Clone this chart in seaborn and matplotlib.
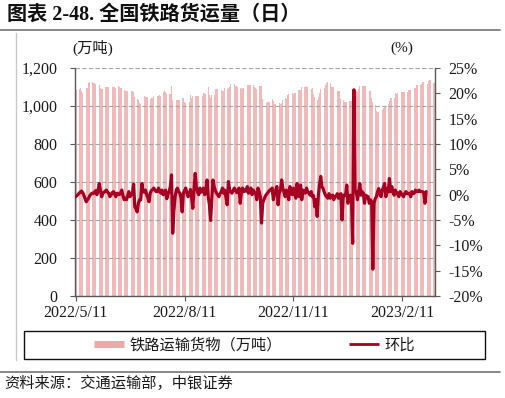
import pandas as pd
import matplotlib.pyplot as plt
import seaborn as sns
from matplotlib.lines import Line2D
from matplotlib.patches import Rectangle
from matplotlib.ticker import FuncFormatter, MultipleLocator

# daily railway freight volume (万吨), 2022/5/11 - 2023/3/10, one list per month
freight_may = [1084, 1086, 1090, 1092, 1093, 1080, 1068, 1090, 1094, 1093, 1095, 1122, 1126, 1125, 1124,
               1123, 1121, 1115, 1113, 1116, 1112]
freight_jun = [1094, 1092, 1090, 1095, 1102, 1100, 1098, 1101, 1099, 1097, 1100, 1102, 1098, 1096, 1101,
               1103, 1100, 1097, 1095, 1098, 1082, 1080, 1078, 1081, 1083, 1079, 1077, 1080, 1075, 1045]
freight_jul = [1040, 1038, 1030, 1016, 1012, 1018, 1048, 1052, 1050, 1047, 1049, 1040, 1038, 1042, 1041,
               1055, 1053, 1056, 1052, 1054, 1057, 1055, 1074, 1076, 1078, 1073, 1062, 1060, 1064, 1061, 1105]
freight_aug = [1030, 1032, 1028, 1031, 1033, 1030, 1029, 1032, 1040, 1042, 1020, 1016, 1018, 1015, 1019,
               1058, 1040, 1052, 1054, 1051, 1053, 1055, 1052, 1050, 1054, 1055, 1066, 1067, 1065, 1068, 1098]
freight_sep = [1060, 1040, 1058, 1057, 1059, 1088, 1090, 1087, 1089, 1080, 1082, 1079, 1081, 1093, 1094,
               1092, 1095, 1100, 1118, 1120, 1119, 1117, 1106, 1104, 1100, 1110, 1094, 1092, 1093, 1095]
freight_oct = [1092, 1098, 1110, 1112, 1109, 1111, 1108, 1110, 1100, 1093, 1092, 1104, 1106, 1105, 1103,
               1035, 1016, 1014, 1015, 1022, 1020, 1023, 1021, 1035, 1024, 1012, 1010, 1013, 1011, 1014, 1012]
freight_nov = [1018, 1030, 1040, 1041, 1039, 1060, 1063, 1062, 1055, 1066, 1065, 1067, 1066, 1083, 1085,
               1084, 1086, 1100, 1101, 1099, 1102, 1105, 1100, 1094, 1093, 1092, 1094, 1064, 1050, 1032]
freight_dec = [1031, 1045, 1070, 1090, 1094, 1092, 1095, 1110, 1122, 1124, 1123, 1120, 1102, 1100, 1098,
               1101, 1082, 1080, 1079, 1081, 1036, 1034, 1030, 1022, 1020, 1023, 1021, 1026, 1028, 1027, 1030]
freight_jan = [1084, 1080, 1078, 1075, 1090, 1104, 1106, 1105, 1103, 1106, 1104, 1082, 1080, 1079, 1081,
               1040, 1020, 1005, 1003, 972, 968, 970, 976, 974, 977, 992, 994, 993, 995, 1010, 1025]
freight_feb = [1040, 1042, 1039, 1041, 1066, 1065, 1067, 1064, 1075, 1074, 1076, 1073, 1075, 1077, 1074,
               1084, 1085, 1083, 1093, 1092, 1094, 1095, 1110, 1108, 1111, 1109, 1118, 1127]
freight_mar = [1128, 1126, 1129, 1115, 1134, 1136, 1135, 1124, 1122, 1123]

# day-on-day change (%)
mom_may = [-0.4, -0.2, 0.0, 0.3, 0.5, 0.7, 0.4, -0.1, -0.8, -1.4, -1.0, -0.7, -0.2, 0.1, 0.3, 0.2, 0.5,
           0.8, 0.0, 0.9, 2.2]
mom_jun = [0.8, -0.4, 0.2, 0.5, 0.7, 0.9, 0.5, 0.3, -0.4, 0.0, 0.4, 0.6, 0.1, -0.4, 0.3, 0.1, 0.0, 0.4,
           0.9, -0.2, -1.0, -0.7, -1.0, -0.2, 0.6, -0.4, 0.0, 0.3, 2.1, -2.4]
mom_jul = [-2.8, -3.4, -1.7, -1.0, -1.0, 2.2, 0.6, 0.5, 0.9, 0.0, -0.6, -1.4, 0.3, 0.8, 1.0, 1.3, 0.9,
           0.6, 0.6, 1.3, 0.7, 0.3, 0.9, 0.0, 0.5, 0.9, -0.8, 0.1, 0.6, 1.6, 3.9]
mom_aug = [-7.6, -3.2, -0.5, 0.9, 1.3, 0.6, 0.3, -0.6, -3.4, 0.3, 0.8, 1.3, 0.3, -0.4, 0.2, 1.0, -0.7,
           -2.7, 1.0, 4.2, 1.5, 0.5, 0.0, 1.3, 0.5, 0.8, 1.3, 0.0, 0.6, 2.9, -0.4]
mom_sep = [-2.0, -5.1, -1.0, 2.9, 1.6, 0.8, 0.3, 0.0, -0.4, 0.2, 0.6, 1.3, 0.3, 0.9, -0.5, -2.0, 2.6,
           1.0, 0.6, 0.3, 0.8, 1.3, 0.9, 0.4, 0.6, 1.3, -1.7, 0.4, 1.3, 0.6]
mom_oct = [0.9, 0.7, 1.6, 0.3, 0.6, 1.3, 0.0, 0.9, 0.5, 0.3, -1.0, 1.3, 0.6, -0.4, -5.6, -1.7, -1.0,
           -0.4, 0.0, 0.3, 0.6, 0.9, 1.0, 1.3, -1.0, 0.2, 0.9, 1.6, -2.0, 0.6, 0.8]
mom_nov = [2.9, 1.3, 0.5, -0.4, 0.9, 0.3, -1.0, 1.6, 0.8, 0.0, 1.3, 0.2, -0.7, 2.2, 0.6, -0.4, 1.9,
           -1.0, 0.9, 0.5, 0.3, 1.3, 0.6, 0.3, -0.1, 0.6, -0.4, -0.2, -2.4, -1.0]
mom_dec = [-4.3, -0.1, 2.0, 3.6, 1.6, 1.2, 0.5, -0.1, -0.4, -0.7, 0.2, -0.7, -0.2, -0.1, -1.0, -0.4,
           -0.4, 0.2, -0.7, 0.0, 0.2, -5.0, -0.1, -0.2, -0.1, 1.9, -1.7, -0.5, -0.1, -1.4, -9.6]
mom_jan = [20.7, 0.6, 0.6, -1.0, 0.5, 2.2, -0.1, 0.6, 0.3, -1.7, -0.1, -0.3, -0.4, -1.7, -1.0, -1.4,
           -14.7, -1.7, -0.8, -0.4, 0.6, 1.2, 0.0, -0.4, 0.9, 1.5, 2.2, -0.4, 1.2, 0.5, 3.2]
mom_feb = [0.6, 1.6, 0.5, -0.1, 0.9, 0.2, 0.3, -0.4, 0.6, 0.2, -0.1, -0.4, 0.3, 0.6, 0.2, 0.2, 0.3,
           -0.4, 0.6, 0.2, 0.3, 0.9, 0.6, 0.6, 0.9, 0.6, 0.6, 0.6]
mom_mar = [0.3, -1.7, 0.6, None, None, None, None, None, None, None]

tick_dates = ['2022-05-11', '2022-08-11', '2022-11-11', '2023-02-11']

freight = (freight_may + freight_jun + freight_jul + freight_aug + freight_sep + freight_oct +
           freight_nov + freight_dec + freight_jan + freight_feb + freight_mar)
mom = (mom_may + mom_jun + mom_jul + mom_aug + mom_sep + mom_oct +
       mom_nov + mom_dec + mom_jan + mom_feb + mom_mar)
dates = pd.date_range('2022-05-11', periods=len(freight), freq='D')

df = pd.DataFrame({'day': range(len(dates)), 'freight': freight,
                   'mom': pd.to_numeric(pd.Series(mom), errors='coerce')})

sns.set_style('ticks')
plt.rcParams['font.family'] = ['Liberation Serif', 'Noto Sans CJK SC']

bar_color = '#F1B9B9'
line_color = '#A50021'
axis_color = '#595959'

fig = plt.figure(figsize=(5.05, 3.98), dpi=100)
ax = fig.add_axes([75 / 505, 1 - 296 / 398, 360 / 505, 228 / 398])

sns.barplot(data=df, x='day', y='freight', color=bar_color, saturation=1, width=0.62,
            linewidth=0, errorbar=None, ax=ax)
ax.set_ylim(0, 1200)
ax.set_xlim(-0.5, len(dates) - 0.5)
ax.yaxis.set_major_locator(MultipleLocator(200))
ax.yaxis.set_major_formatter(FuncFormatter(lambda v, p: f'{int(v):,}'))
ax.set_axisbelow(False)
ax.yaxis.grid(True, color='#A6A6A6', linestyle=(0, (4, 2)), linewidth=0.8)

tick_pos = [int((pd.Timestamp(d) - dates[0]).days) for d in tick_dates]
ax.set_xticks(tick_pos)
ax.set_xticklabels([f'{pd.Timestamp(d).year}/{pd.Timestamp(d).month}/{pd.Timestamp(d).day}'
                    for d in tick_dates])
ax.set_xlabel('')
ax.set_ylabel('')

ax2 = ax.twinx()
sns.lineplot(data=df, x='day', y='mom', color=line_color, linewidth=2.3, ax=ax2)
ax2.set_ylim(-20, 25)
ax2.yaxis.set_major_locator(MultipleLocator(5))
ax2.yaxis.set_major_formatter(FuncFormatter(lambda v, p: f'{int(round(v))}%'))
ax2.set_ylabel('')
ax2.set_xlim(-0.5, len(dates) - 0.5)

for a in (ax, ax2):
    a.spines['top'].set_visible(False)
    for s in ('left', 'right', 'bottom'):
        a.spines[s].set_color(axis_color)
        a.spines[s].set_linewidth(1)
ax.spines['right'].set_visible(False)
ax2.spines['left'].set_visible(False)
ax2.spines['bottom'].set_visible(False)

ax.tick_params(axis='y', direction='out', length=3.5, pad=9, color=axis_color,
               labelsize=11.5, labelcolor='#1a1a1a')
ax.tick_params(axis='x', direction='out', length=3.5, pad=3, color=axis_color,
               labelsize=11.5, labelcolor='#1a1a1a')
ax2.tick_params(axis='y', direction='out', length=3.5, pad=6, color=axis_color,
                labelsize=11.5, labelcolor='#1a1a1a')

# unit labels
fig.text(93 / 505, 1 - 48 / 398, '(万吨)', fontsize=11, ha='center', va='center', color='#1a1a1a')
fig.text(402 / 505, 1 - 48 / 398, '(%)', fontsize=11, ha='center', va='center', color='#1a1a1a')

# title and frame rules
fig.text(7 / 505, 1 - 15 / 398, '图表 2-48. 全国铁路货运量（日）', fontsize=14.5, weight='bold',
         ha='left', va='center', color='#111111')
fig.add_artist(Line2D([0, 500 / 505], [1 - 30 / 398] * 2, color='#7F7F7F', lw=1.3))
fig.add_artist(Line2D([16 / 505] * 2, [1 - 33 / 398, 1 - 360 / 398], color='#C8C8C8', lw=1))
fig.add_artist(Line2D([0, 500 / 505], [1 - 372 / 398] * 2, color='#7F7F7F', lw=1.3))

# legend
fig.add_artist(Rectangle((24 / 505, 1 - 359 / 398), 461 / 505, 28 / 398, transform=fig.transFigure,
                         fill=False, ec='#111111', lw=1))
handles = [Line2D([], [], color='#EBA9A9', lw=5, solid_capstyle='butt'),
           Line2D([], [], color=line_color, lw=2.0, solid_capstyle='butt')]
fig.legend(handles, ['铁路运输货物（万吨）', '环比'], loc='center',
           bbox_to_anchor=(254.5 / 505, 1 - 345 / 398), ncol=2, frameon=False, fontsize=11,
           handlelength=1.95, handletextpad=0.35, columnspacing=4.4, labelcolor='#1a1a1a')

fig.text(4 / 505, 1 - 383 / 398, '资料来源：交通运输部，中银证券', fontsize=11, style='italic',
         ha='left', va='center', color='#1a1a1a')

fig.savefig('out.png', dpi=100)
